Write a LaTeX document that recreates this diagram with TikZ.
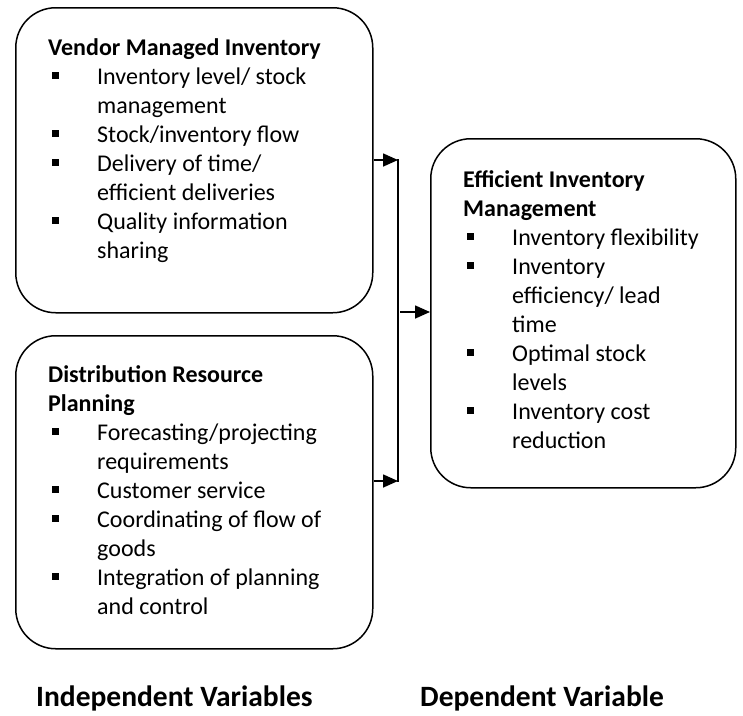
\documentclass[tikz,border=0pt]{standalone}
\usepackage{fontspec}
\setmainfont{Carlito}
\usetikzlibrary{arrows.meta}
\newcommand\sqb{\raisebox{5pt}{\rule{7pt}{7pt}}}
\newcommand\bitem[1]{\par\noindent\hspace*{4pt}\sqb\hspace*{38pt}#1}
\newcommand\citem[1]{\par\noindent\hspace*{49pt}#1}
\newcommand\titl[1]{\par\noindent\textbf{#1}}
\begin{document}
\begin{tikzpicture}[x=1pt,y=-1pt,
  varbox/.style={draw=black, line width=1.5pt, rounded corners=40pt, inner sep=0pt},
  boxtext/.style={anchor=base west, inner sep=0pt, font=\fontsize{24pt}{29pt}\selectfont},
  conn/.style={line width=1.6pt, -{Triangle[length=15pt,width=13pt]}},
  plain/.style={line width=1.6pt},
  caption/.style={anchor=base west, inner sep=0pt, font=\fontsize{29.5pt}{34pt}\selectfont\bfseries}]
\useasboundingbox (0,0) rectangle (743,715);
% boxes
\node[varbox, minimum width=357pt, minimum height=305pt, anchor=north west] (vmi) at (15,7) {};
\node[varbox, minimum width=357pt, minimum height=313pt, anchor=north west] (drp) at (15,335) {};
\node[varbox, minimum width=305pt, minimum height=349pt, anchor=north west] (eim) at (430,138) {};
% texts
\node[boxtext] (vmit) at (48,55) {\parbox[t]{320pt}{%
\titl{Vendor Managed Inventory}
\bitem{Inventory level/ stock}
\citem{management}
\bitem{Stock/inventory flow}
\bitem{Delivery of time/}
\citem{efficient deliveries}
\bitem{Quality information}
\citem{sharing}}};
\node[boxtext] (drpt) at (48,382) {\parbox[t]{320pt}{%
\titl{Distribution Resource}
\titl{Planning}
\bitem{Forecasting/projecting}
\citem{requirements}
\bitem{Customer service}
\bitem{Coordinating of flow of}
\citem{goods}
\bitem{Integration of planning}
\citem{and control}}};
\node[boxtext] (eimt) at (463,187) {\parbox[t]{270pt}{%
\titl{Efficient Inventory}
\titl{Management}
\bitem{Inventory flexibility}
\bitem{Inventory}
\citem{efficiency/ lead}
\citem{time}
\bitem{Optimal stock}
\citem{levels}
\bitem{Inventory cost}
\citem{reduction}}};
% connectors
\coordinate (jt) at (398,160);
\coordinate (jb) at (398,481);
\coordinate (jm) at (400,312);
\draw[conn] (vmi.east |- jt) -- (jt);
\draw[conn] (drp.east |- jb) -- (jb);
\draw[plain] ([yshift=0.8pt]jt) -- ([yshift=-0.8pt]jb);
\draw[conn] (jm) -- (eim.west |- jm);
% captions
\node[caption] (iv) at (36,706) {Independent Variables};
\node[caption] (dv) at (420,706) {Dependent Variable};
\end{tikzpicture}
\end{document}
